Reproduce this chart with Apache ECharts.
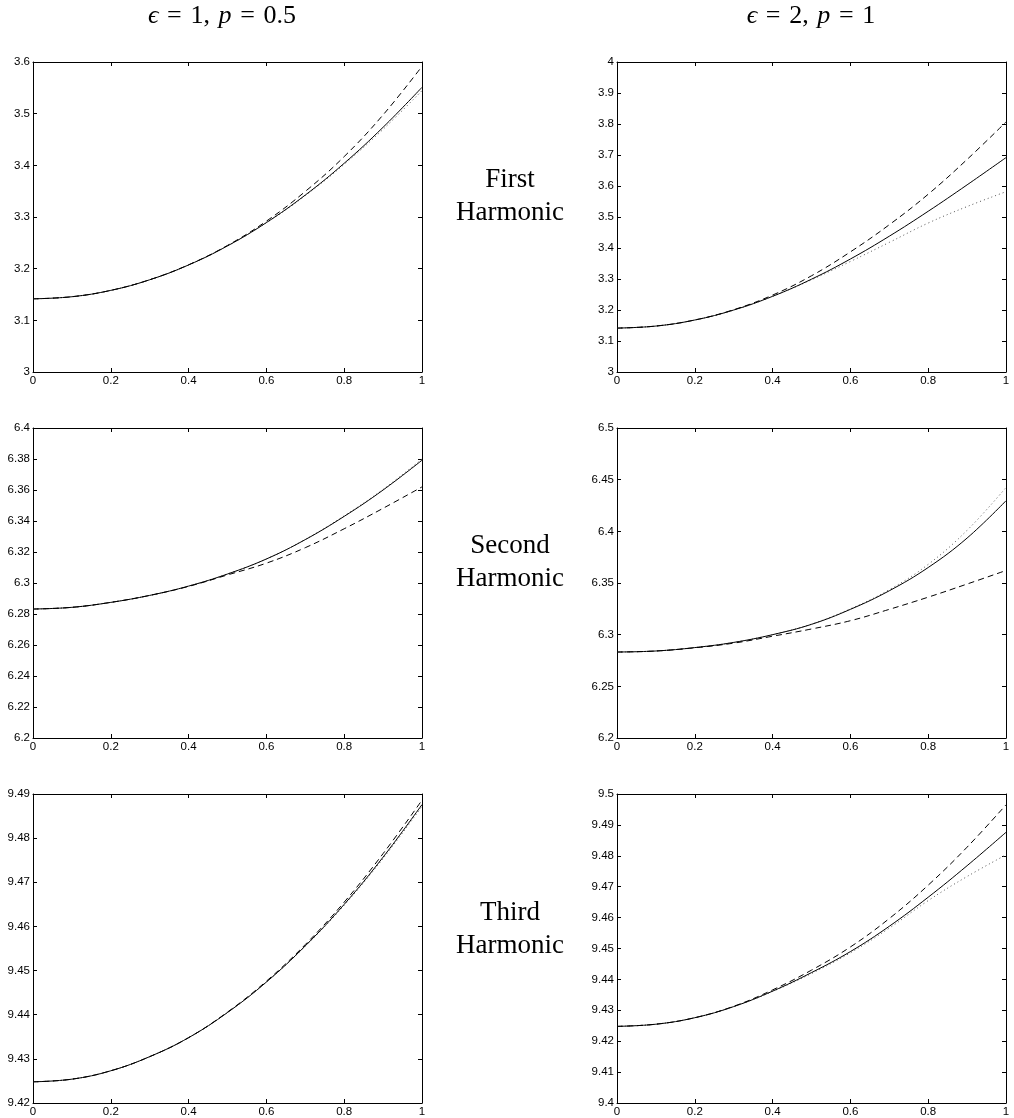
<!DOCTYPE html>
<html>
<head>
<meta charset="utf-8">
<script src="https://cdn.jsdelivr.net/npm/echarts@6/dist/echarts.min.js"></script>
<style>
  html, body { margin: 0; padding: 0; background: #fff; }
  #chart { width: 1014px; height: 1118px; }
</style>
</head>
<body>
<div id="chart"></div>
<script>
// x samples shared by every panel
const xs = [0, 0.1, 0.2, 0.3, 0.4, 0.5, 0.6, 0.7, 0.8, 0.9, 1];

// first harmonic, eps = 1, p = 0.5
const solid1a = [3.1416, 3.1457, 3.1580, 3.1785, 3.2072, 3.2441, 3.2892, 3.3425, 3.4040, 3.4737, 3.5510];
const dashed1a = [3.1416, 3.1457, 3.1580, 3.1786, 3.2075, 3.2450, 3.2920, 3.3495, 3.4170, 3.4977, 3.5916];
const dotted1a = [3.1416, 3.1457, 3.1580, 3.1785, 3.2072, 3.2440, 3.2888, 3.3413, 3.4020, 3.4697, 3.5446];

// first harmonic, eps = 2, p = 1
const solid1b = [3.1416, 3.1482, 3.1677, 3.1999, 3.2441, 3.2994, 3.3645, 3.4381, 3.5185, 3.6037, 3.6916];
const dashed1b = [3.1416, 3.1482, 3.1678, 3.2010, 3.2481, 3.3104, 3.3875, 3.4751, 3.5735, 3.6857, 3.8066];
const dotted1b = [3.1416, 3.1482, 3.1677, 3.1997, 3.2440, 3.2975, 3.3565, 3.4181, 3.4805, 3.5337, 3.5816];

// second harmonic
const solid2a = [6.2832, 6.2843, 6.2875, 6.2920, 6.2980, 6.3058, 6.3155, 6.3280, 6.3430, 6.3600, 6.3792];
const dashed2a = [6.2832, 6.2843, 6.2875, 6.2920, 6.2978, 6.3052, 6.3128, 6.3228, 6.3350, 6.3482, 6.3620];
const dotted2a = [6.2832, 6.2843, 6.2875, 6.2920, 6.2980, 6.3058, 6.3155, 6.3281, 6.3433, 6.3604, 6.3800];

const solid2b = [6.2832, 6.2842, 6.2875, 6.2925, 6.3000, 6.3100, 6.3245, 6.3425, 6.3650, 6.3935, 6.4296];
const dashed2b = [6.2832, 6.2842, 6.2873, 6.2918, 6.2985, 6.3055, 6.3135, 6.3245, 6.3363, 6.3490, 6.3621];
const dotted2b = [6.2832, 6.2842, 6.2875, 6.2925, 6.3000, 6.3102, 6.3250, 6.3435, 6.3680, 6.4010, 6.4424];

// third harmonic
const solid3a = [9.4248, 9.4254, 9.4273, 9.4305, 9.4348, 9.4405, 9.4474, 9.4556, 9.4650, 9.4757, 9.4876];
const dashed3a = [9.4248, 9.4254, 9.4273, 9.4305, 9.4348, 9.4406, 9.4476, 9.4559, 9.4655, 9.4765, 9.4886];
const dotted3a = [9.4248, 9.4254, 9.4273, 9.4305, 9.4348, 9.4405, 9.4474, 9.4555, 9.4648, 9.4754, 9.4872];

const solid3b = [9.4248, 9.4255, 9.4276, 9.4312, 9.4362, 9.4422, 9.4490, 9.4572, 9.4666, 9.4768, 9.4876];
const dashed3b = [9.4248, 9.4255, 9.4276, 9.4313, 9.4366, 9.4430, 9.4505, 9.4597, 9.4705, 9.4828, 9.4965];
const dotted3b = [9.4248, 9.4255, 9.4276, 9.4312, 9.4361, 9.4419, 9.4486, 9.4566, 9.4655, 9.4733, 9.4803];

// y ranges per panel: [min, max, interval]
const yRanges = [
  [3, 3.6, 0.1], [3, 4, 0.1],
  [6.2, 6.4, 0.02], [6.2, 6.5, 0.05],
  [9.42, 9.49, 0.01], [9.4, 9.5, 0.01]
];
const panelData = [
  [solid1a, dashed1a, dotted1a], [solid1b, dashed1b, dotted1b],
  [solid2a, dashed2a, dotted2a], [solid2b, dashed2b, dotted2b],
  [solid3a, dashed3a, dotted3a], [solid3b, dashed3b, dotted3b]
];
const rowLabels = ['First\nHarmonic', 'Second\nHarmonic', 'Third\nHarmonic'];

const chart = echarts.init(document.getElementById('chart'));

const gridTops = [62, 428, 794];
const gridLefts = [33, 617];
const labelFont = { fontFamily: 'Liberation Sans, Arial, sans-serif', fontSize: 11.5, color: '#000' };
const lineStyleAxis = { color: '#000', width: 1 };

const grids = [];
const xAxes = [];
const yAxes = [];
const series = [];

panelData.forEach((lines, i) => {
  const row = Math.floor(i / 2);
  const col = i % 2;
  grids.push({ left: gridLefts[col], top: gridTops[row], width: 389, height: 310 });

  const tick = { show: true, inside: true, length: 4, lineStyle: lineStyleAxis };
  xAxes.push({
    type: 'value', gridIndex: i, min: 0, max: 1, interval: 0.2, position: 'bottom',
    axisLine: { show: true, onZero: false, lineStyle: lineStyleAxis },
    axisTick: tick, splitLine: { show: false },
    axisLabel: Object.assign({ margin: 3 }, labelFont)
  });
  xAxes.push({
    type: 'value', gridIndex: i, min: 0, max: 1, interval: 0.2, position: 'top',
    axisLine: { show: true, onZero: false, lineStyle: lineStyleAxis },
    axisTick: tick, splitLine: { show: false }, axisLabel: { show: false }
  });

  const [ymin, ymax, step] = yRanges[i];
  yAxes.push({
    type: 'value', gridIndex: i, min: ymin, max: ymax, interval: step, position: 'left',
    axisLine: { show: true, onZero: false, lineStyle: lineStyleAxis },
    axisTick: tick, splitLine: { show: false },
    axisLabel: Object.assign({ margin: 3 }, labelFont)
  });
  yAxes.push({
    type: 'value', gridIndex: i, min: ymin, max: ymax, interval: step, position: 'right',
    axisLine: { show: true, onZero: false, lineStyle: lineStyleAxis },
    axisTick: tick, splitLine: { show: false }, axisLabel: { show: false }
  });

  const styles = [
    { color: '#000', width: 1, type: 'solid' },
    { color: '#000', width: 1, type: [6, 4] },
    { color: '#555', width: 1, type: [1, 3] }
  ];
  lines.forEach((ys, k) => {
    series.push({
      type: 'line',
      xAxisIndex: 2 * i,
      yAxisIndex: 2 * i,
      data: xs.map((x, j) => [x, ys[j]]),
      smooth: 0.4,
      showSymbol: false,
      silent: true,
      lineStyle: styles[k],
      z: 3 - k
    });
  });
});

const serif = 'Liberation Serif, Times New Roman, DejaVu Serif, serif';
const titleRich = {
  i: { fontFamily: serif, fontStyle: 'italic', fontSize: 26, fill: '#000' }
};
const sp = '\u2004';
const graphics = [
  {
    type: 'text',
    style: {
      x: 222, y: 16, text: '{i|ϵ}' + sp + '=' + sp + '1,' + sp + '{i|p}' + sp + '=' + sp + '0.5',
      align: 'center', verticalAlign: 'middle',
      font: '26px ' + serif, fill: '#000', rich: titleRich
    }
  },
  {
    type: 'text',
    style: {
      x: 811, y: 16, text: '{i|ϵ}' + sp + '=' + sp + '2,' + sp + '{i|p}' + sp + '=' + sp + '1',
      align: 'center', verticalAlign: 'middle',
      font: '26px ' + serif, fill: '#000', rich: titleRich
    }
  }
];
const rowCenters = [196, 562, 929];
rowLabels.forEach((t, r) => {
  graphics.push({
    type: 'text',
    style: {
      x: 510, y: rowCenters[r], text: t, align: 'center', verticalAlign: 'middle',
      font: '27px ' + serif, lineHeight: 33, fill: '#000'
    }
  });
});

chart.setOption({
  animation: false,
  backgroundColor: '#fff',
  grid: grids,
  xAxis: xAxes,
  yAxis: yAxes,
  series: series,
  graphic: graphics
});
</script>
</body>
</html>
